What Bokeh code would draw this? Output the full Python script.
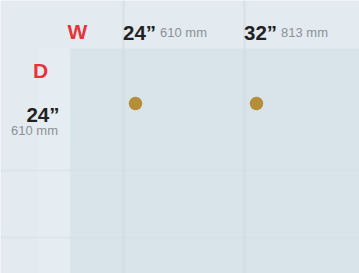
from bokeh.plotting import figure
from bokeh.models import Range1d, ColumnDataSource
from bokeh.embed import file_html
from bokeh.resources import INLINE
from bokeh.core.properties import value

# ---- data ----
width_in = ["24\u201d", "32\u201d"]
width_mm = ["610 mm", "813 mm"]
depth_in = ["24\u201d"]
depth_mm = ["610 mm"]
avail_w = [0, 1]
avail_d = [0, 0]
w_label = ["W"]
d_label = ["D"]

PX = 121.0  # pixels per column unit
X0, Y0 = 135.0, 103.0
W, H = 359, 273

p = figure(width=W, height=H, output_backend="svg", toolbar_location=None,
           x_range=Range1d(-X0 / PX, (W - X0) / PX),
           y_range=Range1d((H - Y0) / PX, -Y0 / PX),
           x_axis_type=None, y_axis_type=None, min_border=0,
           background_fill_color="#e3ebf1", border_fill_color="#e3ebf1",
           outline_line_color=None)
p.grid.visible = False

def px(v):
    return (v - X0) / PX

def py(v):
    return (v - Y0) / PX

# inner panel
p.quad(left=[px(70)], right=[px(W + 5)], top=[py(48)], bottom=[py(H + 5)],
       fill_color="#d9e3ea", line_color=None)
# light strip in the left panel
p.quad(left=[px(38)], right=[px(68)], top=[py(48)], bottom=[py(H + 5)],
       fill_color="#ffffff", fill_alpha=0.12, line_color=None)
# faint column separators
cols = list(range(len(width_in)))
sep_x = [c - 12 / PX for c in cols]
p.segment(x0=sep_x, x1=sep_x, y0=[py(0)] * len(cols), y1=[py(H)] * len(cols),
          line_color="#c9d5de", line_alpha=0.35, line_width=3)
# faint horizontal texture bands
p.segment(x0=[px(0), px(0)], x1=[px(W), px(W)], y0=[py(237), py(170)], y1=[py(237), py(170)],
          line_color="#cfdae2", line_alpha=0.25, line_width=3)

# column headers
hdr = ColumnDataSource(dict(x=cols, inch=width_in, mm=width_mm, y=[py(31.5)] * len(cols)))
p.text(x="x", y="y", text="inch", source=hdr, x_offset=-12.5,
       text_font=value("Liberation Sans"), text_font_style="bold",
       text_font_size="20.5px", text_color="#222222", text_baseline="alphabetic",
       text_align="left")
p.text(x="x", y="y", text="mm", source=hdr, x_offset=24.5,
       text_font=value("Liberation Sans"), text_font_size="13px",
       text_color="#8c9195", text_baseline="alphabetic", text_align="left")

# row headers
rows = list(range(len(depth_in)))
rh = ColumnDataSource(dict(x=[px(59)] * len(rows), y=rows, inch=depth_in, mm=depth_mm))
p.text(x="x", y="y", text="inch", source=rh, y_offset=11,
       text_font=value("Liberation Sans"), text_font_style="bold",
       text_font_size="20.5px", text_color="#222222", text_baseline="alphabetic",
       text_align="right")
p.text(x="x", y="y", text="mm", source=rh, x_offset=-1.5, y_offset=27,
       text_font=value("Liberation Sans"), text_font_size="13px",
       text_color="#8c9195", text_baseline="alphabetic", text_align="right")

# W / D labels
p.text(x=[px(77)], y=[py(31)], text=w_label, text_font=value("Liberation Sans"),
       text_font_style="bold", text_font_size="21px", text_color="#e8333b",
       text_align="center", text_baseline="alphabetic")
p.text(x=[px(40)], y=[py(70)], text=d_label, text_font=value("Liberation Sans"),
       text_font_style="bold", text_font_size="21px", text_color="#e8333b",
       text_align="center", text_baseline="alphabetic")

# availability dots
p.scatter(x=avail_w, y=avail_d, size=13.5, fill_color="#b58e37", line_color=None)

html = file_html(p, INLINE)
html = html.replace("<body>", '<body style="margin:0;background:#e3ebf1;overflow:hidden">', 1)
open("out.html", "w").write(html)
